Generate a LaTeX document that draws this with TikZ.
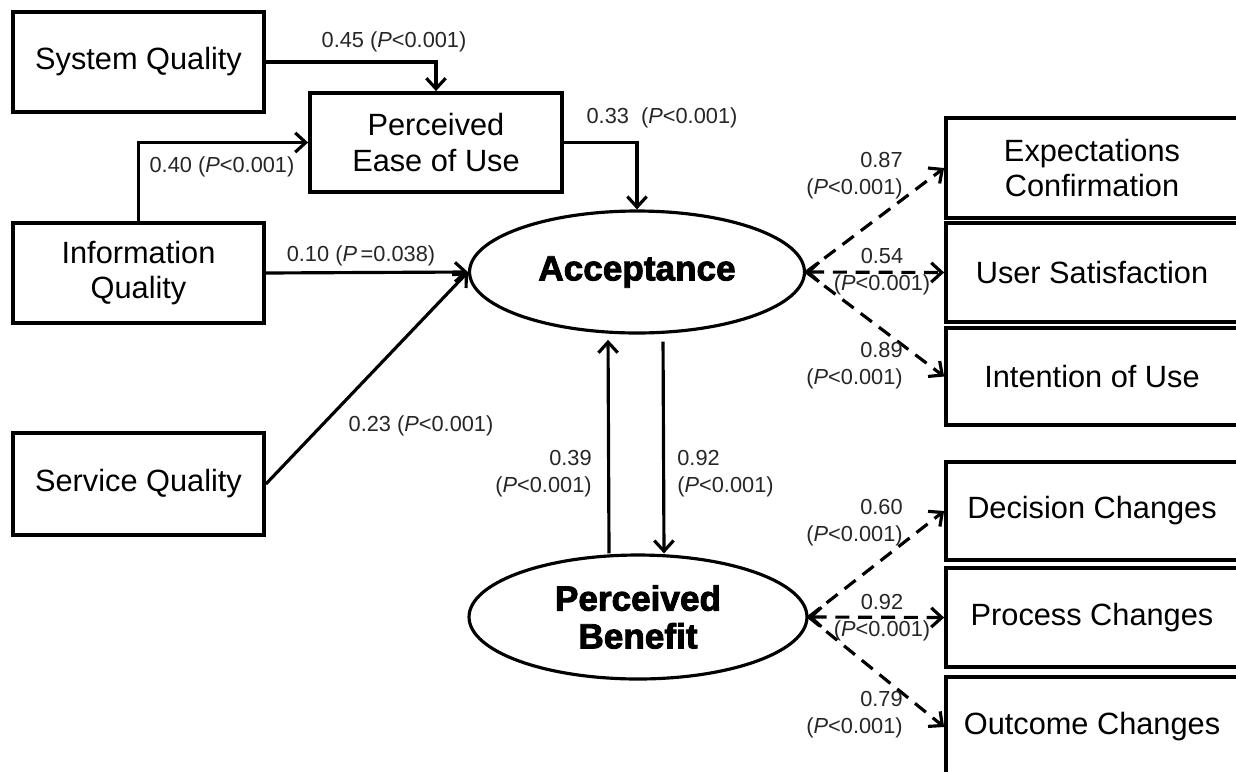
\documentclass[tikz,border=0pt]{standalone}
\usepackage{fontspec}
\setmainfont{Liberation Sans}
\newfontfamily\heavyfont[FakeBold=2.5]{Liberation Sans Bold}
\usetikzlibrary{arrows.meta,shapes.geometric}

\begin{document}
\begin{tikzpicture}[
  x=0.02cm, y=-0.02cm,
  >={Straight Barb[length=6pt,width=11pt]},
  box/.style={draw, line width=2.2pt, minimum width=5.02cm, minimum height=2cm, align=center, font=\fontsize{17.5}{20}\selectfont},
  outbox/.style={box, minimum width=5.84cm},
  latent/.style={draw, ellipse, line width=1.8pt, inner sep=0pt, align=center, font=\heavyfont\fontsize{20}{21.5}\selectfont},
  arr/.style={line width=1.8pt, ->},
  dasharr/.style={arr, dash pattern=on 8pt off 5pt},
  coef/.style={inner sep=0pt, text=black!85, font=\fontsize{12.4}{15.5}\selectfont}
]
\useasboundingbox (0,0) rectangle (1236,771);
\clip (0,0) rectangle (1236,771);

% predictors
\node[box] (sysq) at (138.5,62) {System Quality};
\node[box, minimum width=5.04cm, minimum height=1.98cm] (peou) at (436,142.5) {Perceived\\Ease of Use};
\node[box] (infoq) at (138.5,273) {Information\\Quality};
\node[box, minimum height=2.04cm] (servq) at (138.5,484) {Service Quality};

% latent constructs
\node[latent, minimum width=6.7cm, minimum height=2.44cm] (acc) at (637,272) {Acceptance};
\node[latent, minimum width=6.76cm, minimum height=2.48cm] (pb) at (638,617) {Perceived\\Benefit};

% indicators
\node[outbox] (ec) at (1092,168) {Expectations\\Confirmation};
\node[outbox, minimum height=1.98cm] (us) at (1092,272.5) {User Satisfaction};
\node[outbox, minimum height=1.94cm] (iu) at (1092,376.5) {Intention of Use};
\node[outbox, minimum height=1.96cm] (dc) at (1092,511) {Decision Changes};
\node[outbox, minimum height=1.98cm] (pc) at (1092,617.5) {Process Changes};
\node[outbox] (oc) at (1092,727) {Outcome Changes};

% paths
\draw[arr] (sysq.east) -| (peou.north);
\draw[arr] (infoq.north) |- (peou.west);
\draw[arr] (peou.east) -| (acc.north);
\draw[arr] (infoq.east) -- (acc.west);
\draw[arr] (servq.east) -- (acc.west);
\draw[arr, shorten >=3pt] ([xshift=-0.58cm]pb.north) -- ([xshift=-0.58cm]acc.south);
\draw[arr, shorten <=4pt] ([xshift=0.52cm]acc.south) -- ([xshift=0.52cm]pb.north);

\draw[dasharr] (acc.east) -- (ec.west);
\draw[dasharr, <->] (acc.east) -- (us.west);
\draw[dasharr] (acc.east) -- (iu.west);
\draw[dasharr] (pb.east) -- (dc.west);
\draw[dasharr, <->] (pb.east) -- (pc.west);
\draw[dasharr] (pb.east) -- (oc.west);

% coefficients
\node[coef] (c45) at (394,42) {0.45 (\textit{P}<0.001)};
\node[coef] (c40) at (222,167) {0.40 (\textit{P}<0.001)};
\node[coef] (c33) at (662,118) {0.33~~(\textit{P}<0.001)};
\node[coef] (c10) at (361,256) {0.10 (\textit{P}\,=0.038)};
\node[coef] (c23) at (421,426) {0.23 (\textit{P}<0.001)};
\node[coef, anchor=east, align=right] (c39) at (592,474) {0.39\\(\textit{P}<0.001)};
\node[coef, anchor=west, align=left] (c92a) at (677,474) {0.92\\(\textit{P}<0.001)};
\node[coef, anchor=east, align=right] (c87) at (903,176) {0.87\\(\textit{P}<0.001)};
\node[coef, align=center] (c54) at (882,272) {0.54\\(\textit{P}<0.001)};
\node[coef, anchor=east, align=right] (c89) at (903,366) {0.89\\(\textit{P}<0.001)};
\node[coef, anchor=east, align=right] (c60) at (903,523) {0.60\\(\textit{P}<0.001)};
\node[coef, align=center] (c92b) at (882,618) {0.92\\(\textit{P}<0.001)};
\node[coef, anchor=east, align=right] (c79) at (903,715) {0.79\\(\textit{P}<0.001)};
\end{tikzpicture}
\end{document}
